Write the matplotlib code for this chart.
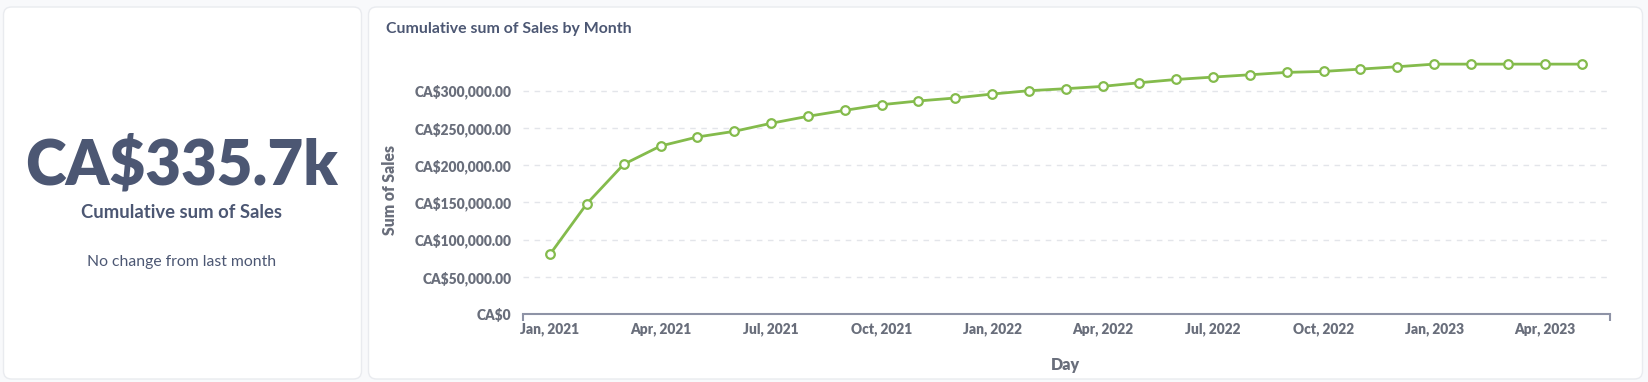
import matplotlib
matplotlib.use("Agg")
import matplotlib.pyplot as plt
from matplotlib.patches import FancyBboxPatch

# ---------------- data ----------------
months = ["2021-01", "2021-02", "2021-03", "2021-04", "2021-05", "2021-06",
          "2021-07", "2021-08", "2021-09", "2021-10", "2021-11", "2021-12",
          "2022-01", "2022-02", "2022-03", "2022-04", "2022-05", "2022-06",
          "2022-07", "2022-08", "2022-09", "2022-10", "2022-11", "2022-12",
          "2023-01", "2023-02", "2023-03", "2023-04", "2023-05"]
cum_sales = [80200, 148200, 201100, 225700, 237800, 245400,
             256200, 265600, 273600, 281200, 286200, 290200,
             295500, 300000, 302700, 305800, 310700, 315100,
             318300, 321400, 324600, 325900, 329000, 332200,
             335700, 335700, 335700, 335700, 335700]
xtick_idx = [0, 3, 6, 9, 12, 15, 18, 21, 24, 27]
xtick_labels = ["Jan, 2021", "Apr, 2021", "Jul, 2021", "Oct, 2021", "Jan, 2022",
                "Apr, 2022", "Jul, 2022", "Oct, 2022", "Jan, 2023", "Apr, 2023"]
ytick_vals = [0, 50000, 100000, 150000, 200000, 250000, 300000]
ytick_labels = ["CA$0", "CA$50,000.00", "CA$100,000.00", "CA$150,000.00",
                "CA$200,000.00", "CA$250,000.00", "CA$300,000.00"]

kpi_value = "CA$335.7k"
kpi_label = "Cumulative sum of Sales"
kpi_note = "No change from last month"
chart_title = "Cumulative sum of Sales by Month"
y_title = "Sum of Sales"
x_title = "Day"

# ---------------- style ----------------
plt.rcParams["font.family"] = ["Lato", "DejaVu Sans"]
DARK = "#4c5773"
GRAY = "#696e7b"
AXIS = "#8e93a6"
GRID = "#e3e5ea"
GREEN = "#84bb4c"
BG = "#f8f9fb"

W, H = 1649, 382
fig = plt.figure(figsize=(W / 100, H / 100), dpi=100)
fig.patch.set_facecolor(BG)

# background canvas in pixel coordinates
bg = fig.add_axes([0, 0, 1, 1])
bg.set_xlim(0, W)
bg.set_ylim(H, 0)
bg.axis("off")
for (x0, y0, x1, y1) in [(3.5, 7, 361.5, 379), (368.5, 7, 1642.5, 379)]:
    bg.add_patch(FancyBboxPatch((x0, y0), x1 - x0, y1 - y0,
                                boxstyle="round,pad=0,rounding_size=8",
                                facecolor="white", edgecolor="#e9ebef", lw=1))

# KPI card text
bg.text(182, 165, kpi_value, ha="center", va="center", fontsize=44.5,
        fontweight="heavy", color=DARK)
bg.text(182, 213, kpi_label, ha="center", va="center", fontsize=13.3,
        fontweight="bold", color=DARK)
bg.text(182, 262, kpi_note, ha="center", va="center", fontsize=11.3,
        color=DARK)

# chart title
bg.text(386.5, 28.5, chart_title, ha="left", va="center", fontsize=11.4,
        fontweight="bold", color=DARK)

# ---------------- line chart ----------------
ax_left, ax_right = 522.7, 1609.5
ax_bottom, ax_top = 314.0, 50.0
ax = fig.add_axes([ax_left / W, (H - ax_bottom) / H,
                   (ax_right - ax_left) / W, (ax_bottom - ax_top) / H])
ax.set_facecolor("none")

x = list(range(len(months)))
ax.plot(x, cum_sales, color=GREEN, lw=2, marker="o", ms=6.2,
        mfc="white", mec=GREEN, mew=1.6, zorder=3, clip_on=False)

ax.set_xlim(-0.741, 28.76)
ax.set_ylim(0, 300000 * (ax_bottom - ax_top) / 223.3)

ax.set_yticks(ytick_vals, labels=ytick_labels, fontweight="heavy",
              fontsize=9.9, color=GRAY)
ax.set_xticks(xtick_idx, labels=xtick_labels, fontweight="heavy",
              fontsize=9.9, color=GRAY)
ax.set_xticks([-0.741, 28.76], minor=True)

ax.grid(axis="y", color=GRID, ls=(0, (4, 4)), lw=1)
ax.set_axisbelow(True)
for s in ["top", "right", "left"]:
    ax.spines[s].set_visible(False)
ax.spines["bottom"].set_color(AXIS)
ax.spines["bottom"].set_linewidth(1.5)

ax.tick_params(axis="y", length=0, pad=8)
ax.tick_params(axis="x", which="major", length=0, pad=6)
ax.tick_params(axis="x", which="minor", length=5, width=1.5, color=AXIS,
               direction="out")

ax.set_ylabel(y_title, fontsize=11.3, fontweight="heavy", color=GRAY)
ax.yaxis.set_label_coords(-0.1147, 0.47)
ax.set_xlabel(x_title, fontsize=11.5, fontweight="heavy", color=GRAY)
ax.xaxis.set_label_coords(0.499, -0.163)

fig.savefig("out.png", dpi=100, facecolor=BG)
